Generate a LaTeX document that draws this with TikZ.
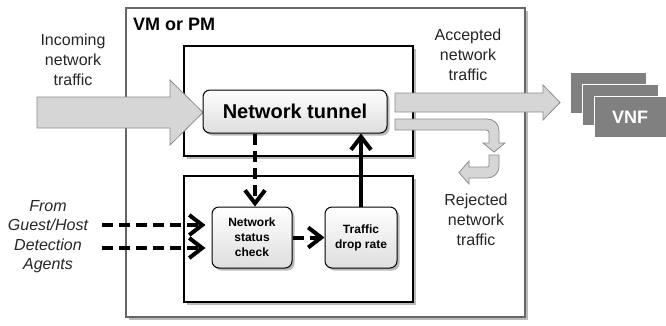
\documentclass[tikz,border=0pt]{standalone}
\usepackage{fontspec}
\setmainfont{Liberation Sans}
\usetikzlibrary{arrows.meta,shadows}
\tikzset{
  lbl/.style={font=\fontsize{16}{20}\selectfont, align=center, text=black!85, inner sep=0pt},
  boxshadow/.style={drop shadow={shadow xshift=2.5pt, shadow yshift=-2.5pt, opacity=0.45, fill=black!60}},
  frame/.style={draw=black, line width=1.3pt, fill=white, boxshadow, inner sep=0pt},
  outerframe/.style={draw=black!60, line width=1.3pt, fill=white, boxshadow, inner sep=0pt},
  procbox/.style={draw=black, line width=1pt, rounded corners=7pt, top color=white, bottom color=black!13,
    boxshadow, align=center, inner sep=2pt},
  bigarr/.style={fill=black!16, draw=black!45, line width=0.8pt, line join=miter},
  flowarr/.style={line width=4pt, -{Straight Barb[length=13pt,width=20pt]}},
  dasharr/.style={flowarr, dash pattern=on 11pt off 6pt},
  vnfbox/.style={fill=black!50, draw=white, line width=1pt, minimum width=76pt, minimum height=41pt,
    text=white, font=\fontsize{18}{20}\selectfont\bfseries, inner sep=0pt},
}
\begin{document}
\begin{tikzpicture}[x=1pt,y=-1pt]
\useasboundingbox (0,0) rectangle (666,325);
% frames
\node (vm) [outerframe, minimum width=399pt, minimum height=309pt] at (325.5,162.5) {};
\node (vmlbl) [anchor=west, font=\fontsize{18}{20}\selectfont\bfseries, inner sep=0pt] at (133,24) {VM or PM};
\node (topbox) [frame, minimum width=229pt, minimum height=110pt] at (298.5,101) {};
\node (botbox) [frame, minimum width=229pt, minimum height=126pt] at (298.5,239) {};
% big arrows
\draw[bigarr] (37,97) -- (170,97) -- (170,80) -- (203,112.5) -- (170,145) -- (170,128) -- (37,128) -- cycle;
\draw[bigarr] (395,93) -- (543,93) -- (543,85) -- (560,102.5) -- (543,120) -- (543,112) -- (395,112) -- cycle;
\draw[bigarr] (395,119) -- (487,119) .. controls (494,119) and (499,124) .. (499,131) -- (499,143)
  -- (505,143) -- (494,152) -- (483,143) -- (489,143) -- (489,133)
  .. controls (489,131) and (488,130) .. (486,130) -- (395,130) -- cycle;
\draw[bigarr] (489,155) -- (499,155) -- (499,166) .. controls (499,173) and (494,178) .. (487,178)
  -- (469,178) -- (469,184) -- (459,172.5) -- (469,161) -- (469,167) -- (487,167)
  .. controls (488.5,167) and (489,166.5) .. (489,165) -- cycle;
% process nodes
\node (tunnel) [procbox, minimum width=184pt, minimum height=43pt, font=\fontsize{20}{22}\selectfont\bfseries] at (295,111.5) {Network tunnel};
\node (status) [procbox, minimum width=80pt, minimum height=61pt, font=\fontsize{12}{15}\selectfont\bfseries] at (252,237.5) {Network\\status\\check};
\node (drop) [procbox, minimum width=72pt, minimum height=61pt, font=\fontsize{12}{15}\selectfont\bfseries] at (361,237.5) {Traffic\\drop rate};
% labels
\node (inlbl) [lbl] at (73,60) {Incoming\\network\\traffic};
\node (acclbl) [lbl] at (468,55) {Accepted\\network\\traffic};
\node (rejlbl) [lbl] at (476,220) {Rejected\\network\\traffic};
\node (agents) [lbl, font=\fontsize{16}{19.5}\selectfont\itshape] at (48,236.5) {From\\Guest/Host\\Detection\\Agents};
% VNF stack
\node (vnf1) [vnfbox] at (608,92.5) {};
\node (vnf2) [vnfbox] at (620,104.5) {};
\node (vnf3) [vnfbox, minimum width=72pt] at (630,117) {VNF};
% connectors
\coordinate (in1) at (102,225);
\coordinate (in2) at (102,248);
\draw[dasharr, shorten >=6pt] (in1) -- (in1 -| status.west);
\draw[dasharr, shorten >=6pt] (in2) -- (in2 -| status.west);
\draw[dasharr] ([xshift=3pt]tunnel.south -| status.north) -- ([xshift=3pt]status.north);
\draw[dasharr] (status.east) -- (drop.west);
\draw[flowarr] (drop.north) -- (drop.north |- tunnel.south);
\end{tikzpicture}
\end{document}
